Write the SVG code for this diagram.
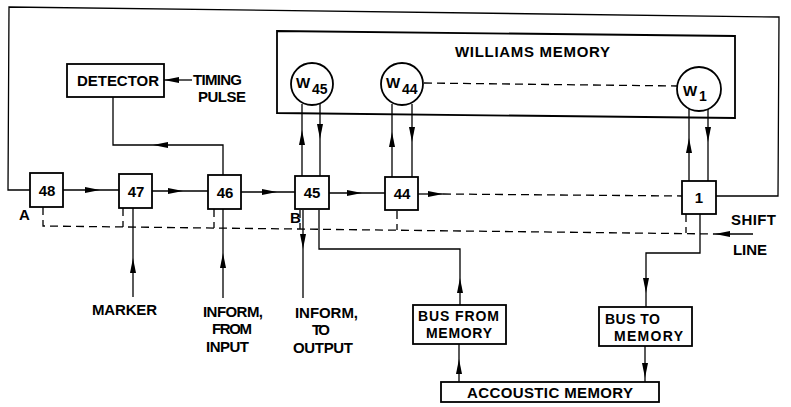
<svg xmlns="http://www.w3.org/2000/svg" width="791" height="407" viewBox="0 0 791 407">
<defs>
<style>
.box{fill:#fff;stroke:#000;stroke-width:1.8}
.frame{fill:none;stroke:#000;stroke-width:1.8}
.ln{fill:none;stroke:#000;stroke-width:1.3}
.ar{marker-mid:url(#ah)}
.ae{marker-end:url(#ah)}
.ds{fill:none;stroke:#000;stroke-width:1.3;stroke-dasharray:8 5}
text{font-family:"Liberation Sans",Arial,sans-serif;font-weight:bold;font-size:15px;fill:#000}
.c{text-anchor:middle}
.sub{font-size:14px}
.bt{font-size:14px}
</style>
<marker id="ah" viewBox="0 0 15 7" refX="15" refY="3.5" markerWidth="15" markerHeight="7" markerUnits="userSpaceOnUse" orient="auto"><path d="M0,0.5 L15,3.5 L0,6.5 z" fill="#000"/></marker>
</defs>
<rect width="791" height="407" fill="#fff"/>

<g id="williams">
<path class="frame" d="M277,31 L735,36 L735,118 L277,113 Z"/>
<text x="455" y="57" textLength="155" lengthAdjust="spacing">WILLIAMS MEMORY</text>
</g>

<g id="connectors">
<path class="ln" d="M716,196 L778,196 L779,17 L9,7 L8,190 L30,190"/>
<path class="ln ar" d="M63,190 L100,190 L119,190"/>
<path class="ln ar" d="M152,191 L183,191 L208,191"/>
<path class="ln ar" d="M241,192 L277,192 L295,192"/>
<path class="ln ar" d="M329,193 L362,193 L385,193"/>
<path class="ln ae" d="M418,194 L443,194"/>
<path class="ds" d="M443,194 L682,196"/>
<path class="ln ae" d="M223,175 L223,145 L153,145"/>
<path class="ln" d="M153,145 L113,145 L113,97"/>
<path class="ln ae" d="M192,80 L164,80"/>
<path class="ln ar" d="M302,176 L302,130 L302,104"/>
<path class="ln ar" d="M320,104 L320,139 L320,176"/>
<path class="ln ar" d="M392,177 L392,132 L392,104"/>
<path class="ln ar" d="M412,104 L412,142 L412,177"/>
<path class="ln ar" d="M689,181 L689,138 L689,109"/>
<path class="ln ar" d="M708,109 L708,142 L708,181"/>
<path class="ds" d="M424,83 L677,86"/>
<path class="ln ar" d="M133,297 L133,258 L133,208"/>
<path class="ln ar" d="M223,298 L223,253 L223,209"/>
<path class="ln ar" d="M303,210 L303,249 L303,298"/>
<path class="ln ae" d="M460,305 L460,278"/>
<path class="ln" d="M460,278 L460,249 L319,249 L319,210"/>
<path class="ln ar" d="M459,382 L459,359 L459,344"/>
<path class="ln ae" d="M700,214 L700,253 L646,253 L646,293"/>
<path class="ln" d="M646,293 L646,307"/>
<path class="ln ar" d="M645,346 L645,378 L645,382"/>
<path class="ds" d="M43,207 L43,226 L715,234"/>
<path class="ds" d="M123,208 L123,227"/>
<path class="ds" d="M214,209 L214,228"/>
<path class="ds" d="M300,210 L300,229"/>
<path class="ds" d="M397,211 L397,230"/>
<path class="ds" d="M686,214 L686,233"/>
<path class="ln ae" d="M753,234 L715,234"/>
</g>

<g id="w45">
<circle class="box" cx="312" cy="84" r="21"/>
<text x="296" y="88">W</text><text class="sub" x="312" y="94">45</text>
</g>
<g id="w44">
<circle class="box" cx="402" cy="84" r="21"/>
<text x="386" y="88">W</text><text class="sub" x="402" y="94">44</text>
</g>
<g id="w1">
<circle class="box" cx="699" cy="89" r="22"/>
<text x="683" y="96">W</text><text class="sub" x="699" y="101">1</text>
</g>

<g id="detector">
<rect class="box" x="67" y="64" width="97" height="33"/>
<text x="77" y="86" textLength="82" lengthAdjust="spacing">DETECTOR</text>
</g>
<g id="timing">
<text x="193" y="85" textLength="49" lengthAdjust="spacing">TIMING</text>
<text x="198" y="102" textLength="48" lengthAdjust="spacing">PULSE</text>
</g>

<g id="n48"><rect class="box" x="30" y="173" width="33" height="34"/><text class="c" x="47" y="196">48</text></g>
<g id="n47"><rect class="box" x="119" y="174" width="33" height="34"/><text class="c" x="136" y="197">47</text></g>
<g id="n46"><rect class="box" x="208" y="175" width="33" height="34"/><text class="c" x="225" y="198">46</text></g>
<g id="n45"><rect class="box" x="295" y="176" width="34" height="33"/><text class="c" x="312" y="198">45</text></g>
<g id="n44"><rect class="box" x="385" y="177" width="33" height="33"/><text class="c" x="402" y="199">44</text></g>
<g id="n1"><rect class="box" x="682" y="181" width="34" height="33"/><text class="c" x="699" y="203">1</text></g>

<g id="labelA"><text x="19" y="220">A</text></g>
<g id="labelB"><text x="290" y="223">B</text></g>

<g id="shift">
<text x="731" y="225" textLength="45" lengthAdjust="spacing">SHIFT</text>
<text x="733" y="255" textLength="34" lengthAdjust="spacing">LINE</text>
</g>

<g id="marker"><text x="92" y="315" textLength="65" lengthAdjust="spacing">MARKER</text></g>
<g id="informIn">
<text x="203" y="317" textLength="60" lengthAdjust="spacing">INFORM,</text>
<text x="212" y="334" textLength="40" lengthAdjust="spacing">FROM</text>
<text x="206" y="352" textLength="43" lengthAdjust="spacing">INPUT</text>
</g>
<g id="informOut">
<text x="295" y="318" textLength="63" lengthAdjust="spacing">INFORM,</text>
<text x="312" y="335" textLength="18" lengthAdjust="spacing">TO</text>
<text x="293" y="353" textLength="60" lengthAdjust="spacing">OUTPUT</text>
</g>

<g id="busFrom">
<rect class="box" x="413" y="305" width="93" height="39"/>
<text class="bt" x="418" y="321" textLength="81" lengthAdjust="spacing">BUS FROM</text>
<text class="bt" x="426" y="338" textLength="66" lengthAdjust="spacing">MEMORY</text>
</g>
<g id="busTo">
<rect class="box" x="599" y="307" width="93" height="39"/>
<text class="bt" x="605" y="324" textLength="55" lengthAdjust="spacing">BUS TO</text>
<text class="bt" x="614" y="341" textLength="69" lengthAdjust="spacing">MEMORY</text>
</g>
<g id="accoustic">
<rect class="box" x="441" y="382" width="218" height="20"/>
<text x="467" y="398" textLength="166" lengthAdjust="spacing">ACCOUSTIC MEMORY</text>
</g>
</svg>
